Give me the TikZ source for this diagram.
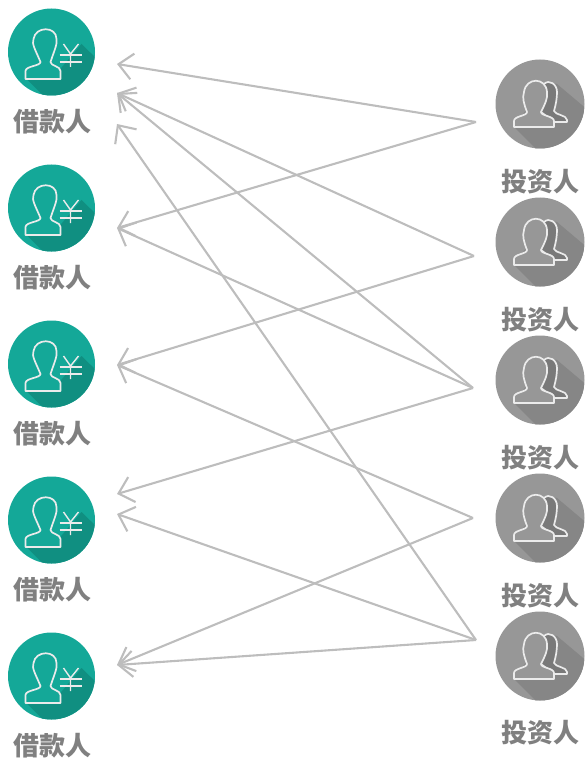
\documentclass[tikz,border=0pt]{standalone}
\usepackage{fontspec}
\setmainfont{Noto Sans CJK SC}
\usetikzlibrary{arrows.meta}
\definecolor{tealdisc}{HTML}{14A898}
\definecolor{tealshade}{HTML}{108F81}
\definecolor{graydisc}{HTML}{979797}
\definecolor{grayshade}{HTML}{868686}
\definecolor{graytext}{HTML}{808080}
\definecolor{linkgray}{HTML}{BDBDBD}
\tikzset{
    caption/.style={font=\fontsize{26}{26}\selectfont\bfseries,text=graytext,inner sep=0pt},
    link/.style={draw=linkgray,line width=2.1pt,-{Straight Barb[length=14pt,width=26pt,line width=2.1pt]}},
    outline/.style={draw=white!92!black,line width=1.7pt,line join=round},
    borrower/.pic={
        \fill[tealdisc] (0,0) circle (43.5);
        \begin{scope}
            \clip (0,0) circle (43.5);
            \fill[tealshade] (-25,27) -- (45,97) -- (100,60) -- (30,-8) -- (8,18) -- cycle;
        \end{scope}
        \draw[outline,fill=tealdisc] (-11,10) .. controls (-16,-2) and (-20,-8) .. (-18,-13)
            .. controls (-16,-26) and (5,-26) .. (5,-13)
            .. controls (6,-8) and (3,-2) .. (-1,10)
            .. controls (-1,14) and (9,14) .. (9,19) -- (9,27) -- (-26,27) -- (-26,19)
            .. controls (-26,14) and (-11,14) .. (-11,10) -- cycle;
        \draw[outline,line width=1.4pt] (12,-8) -- (19,2) -- (27,-8) (19,2) -- (19,15);
        \draw[outline,line width=1.4pt] (8,3) -- (30,3) (8,10) -- (30,10);
    },
    investor/.pic={
        \fill[graydisc] (0,0) circle (44.5);
        \begin{scope}
            \clip (0,0) circle (44.5);
            \fill[grayshade] (-26,23) -- (45,94) -- (100,50) -- (17,-20) -- (6,-22) -- cycle;
        \end{scope}
        \draw[outline,fill=grayshade!90!black] (4,-20) .. controls (9,-25) and (17,-20) .. (17,-12)
            .. controls (17,-6) and (16,0) .. (14,7)
            .. controls (15,11) and (27,11) .. (27,16) -- (27,18) -- (14,18) -- (1,8) -- cycle;
        \draw[outline,fill=graydisc] (-13,8) .. controls (-16,0) and (-18,-6) .. (-16,-12)
            .. controls (-14,-27) and (6,-27) .. (7,-12)
            .. controls (8,-6) and (5,0) .. (1,8)
            .. controls (1,12) and (14,12) .. (14,17) -- (14,23) -- (-26,23) -- (-26,17)
            .. controls (-26,12) and (-13,12) .. (-13,8) -- cycle;
    }
}
\begin{document}
\begin{tikzpicture}[x=1pt,y=-1pt]
    \useasboundingbox (0,0) rectangle (584,759);

    % borrowers
    \pic at (51.5,52) {borrower};
    \pic at (51.5,208) {borrower};
    \pic at (51.5,364) {borrower};
    \pic at (51.5,520) {borrower};
    \pic at (51.5,676) {borrower};
    \node[caption] (B1) at (52,122) {借款人};
    \node[caption] (B2) at (52,278) {借款人};
    \node[caption] (B3) at (52,434) {借款人};
    \node[caption] (B4) at (52,590) {借款人};
    \node[caption] (B5) at (52,746) {借款人};

    % investors
    \pic at (540,104) {investor};
    \pic at (540,242) {investor};
    \pic at (540,380) {investor};
    \pic at (540,518) {investor};
    \pic at (540,656) {investor};
    \node[caption] (I1) at (540,182) {投资人};
    \node[caption] (I2) at (540,320) {投资人};
    \node[caption] (I3) at (540,458) {投资人};
    \node[caption] (I4) at (540,596) {投资人};
    \node[caption] (I5) at (540,733) {投资人};

    % arrow ends on the left
    \coordinate (L1) at (117,64);
    \coordinate (L2) at (117,93);
    \coordinate (L3) at (117,124);
    \coordinate (L4) at (117,228);
    \coordinate (L5) at (117,365);
    \coordinate (L6) at (117,494);
    \coordinate (L7) at (117,514);
    \coordinate (L8) at (117,665);

    % arrow starts on the right
    \coordinate (R1) at (476,122);
    \coordinate (R2) at (474,256);
    \coordinate (R3) at (473,388);
    \coordinate (R4) at (473,518);
    \coordinate (R5) at (476,640);

    % links
    \draw[link] (R1) -- (L1);
    \draw[link] (R1) -- (L4);
    \draw[link] (R2) -- (L2);
    \draw[link] (R2) -- (L5);
    \draw[link] (R3) -- (L2);
    \draw[link] (R3) -- (L4);
    \draw[link] (R3) -- (L6);
    \draw[link] (R4) -- (L5);
    \draw[link] (R4) -- (L8);
    \draw[link] (R5) -- (L3);
    \draw[link] (R5) -- (L7);
    \draw[link] (R5) -- (L8);
\end{tikzpicture}
\end{document}
